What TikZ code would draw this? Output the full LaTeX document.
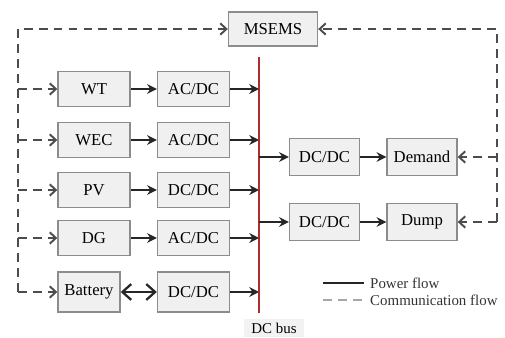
\documentclass[tikz,border=0pt]{standalone}
\usepackage{fontspec}
\setmainfont{Liberation Serif}
\usetikzlibrary{arrows.meta}
\tikzset{
  unit/.style={draw=black!45, fill=black!6, line width=0.8pt, font=\fontsize{9.5}{11}\selectfont, inner sep=1pt},
  srcbox/.style={unit, minimum width=1.44cm, minimum height=0.7cm},
  loadbox/.style={unit, minimum width=1.4cm, minimum height=0.74cm},
  power/.style={line width=1.3pt, draw=black!85, -{Stealth[length=5.5pt, width=5.5pt]}},
  comm/.style={line width=1.1pt, draw=black!70, dash pattern=on 5pt off 3.5pt, -{Straight Barb[length=3.5pt, width=6.5pt]}},
  bus/.style={line width=1pt, draw={rgb,255:red,175;green,45;blue,45}},
  legendtext/.style={anchor=west, font=\fontsize{8.5}{10}\selectfont, text=black!80},
}

\begin{document}
\begin{tikzpicture}[x=0.02cm, y=-0.02cm]
\useasboundingbox (0,0) rectangle (505,338);
\node[unit, minimum width=1.78cm, minimum height=0.68cm] (msems) at (273,29) {MSEMS};
\node[srcbox] (wt) at (94,89) {WT};
\node[srcbox] (acdca) at (193.5,89) {AC/DC};
\node[srcbox] (wec) at (94,140) {WEC};
\node[srcbox] (acdcb) at (193.5,140) {AC/DC};
\node[srcbox] (pv) at (94,190) {PV};
\node[srcbox] (dcdca) at (193.5,190) {DC/DC};
\node[srcbox] (dg) at (94,238) {DG};
\node[srcbox] (acdcc) at (193.5,238) {AC/DC};
\node[unit, minimum width=1.24cm, minimum height=0.8cm] (bat) at (89,292) {Battery};
\node[unit, minimum width=1.44cm, minimum height=0.8cm] (dcdcb) at (193.5,292) {DC/DC};
\node[loadbox] (dcdcc) at (324.5,157) {DC/DC};
\node[loadbox] (demand) at (422,157) {Demand};
\node[loadbox] (dcdcd) at (324.5,222) {DC/DC};
\node[loadbox] (dump) at (422,222) {Dump};
\coordinate (bustop) at (259,57);
\coordinate (busbot) at (259,313);
\coordinate (lefttop) at (18,29);
\coordinate (leftbot) at (18,292);
\coordinate (righttop) at (497,29);
\coordinate (rightbot) at (497,222);
\node[fill=black!5, minimum width=1.2cm, minimum height=0.38cm, font=\fontsize{8.5}{10}\selectfont, inner sep=0pt] (buslabel) at (274,328) {DC bus};
\draw[bus] (bustop) -- (busbot);
\draw[power] (wt) -- (acdca);
\draw[power] (wec) -- (acdcb);
\draw[power] (pv) -- (dcdca);
\draw[power] (dg) -- (acdcc);
\draw[power, {Straight Barb[length=5pt, width=9pt]}-{Straight Barb[length=5pt, width=9pt]}] (bat) -- (dcdcb);
\draw[power] (acdca.east) -- (acdca.east -| bustop);
\draw[power] (acdcb.east) -- (acdcb.east -| bustop);
\draw[power] (dcdca.east) -- (dcdca.east -| bustop);
\draw[power] (acdcc.east) -- (acdcc.east -| bustop);
\draw[power] (dcdcb.east) -- (dcdcb.east -| bustop);
\draw[power] (dcdcc.west -| bustop) -- (dcdcc.west);
\draw[power] (dcdcd.west -| bustop) -- (dcdcd.west);
\draw[power] (dcdcc) -- (demand);
\draw[power] (dcdcd) -- (dump);
\draw[comm] (leftbot) -- (lefttop) -- (msems.west);
\draw[comm] (rightbot) -- (righttop) -- (msems.east);
\draw[comm] (wt.west -| lefttop) -- (wt.west);
\draw[comm] (wec.west -| lefttop) -- (wec.west);
\draw[comm] (pv.west -| lefttop) -- (pv.west);
\draw[comm] (dg.west -| lefttop) -- (dg.west);
\draw[comm] (leftbot) -- (bat.west);
\draw[comm] (demand.east -| righttop) -- (demand.east);
\draw[comm] (rightbot) -- (dump.east);
\node[legendtext] (pflow) at (364,283) {Power flow};
\node[legendtext] (cflow) at (364,300) {Communication flow};
\coordinate (pstart) at (323,283);
\coordinate (cstart) at (323,300);
\draw[power, -] (pstart) -- (pflow.west);
\draw[comm, -, draw=black!35] (cstart) -- (cflow.west);
\end{tikzpicture}
\end{document}
